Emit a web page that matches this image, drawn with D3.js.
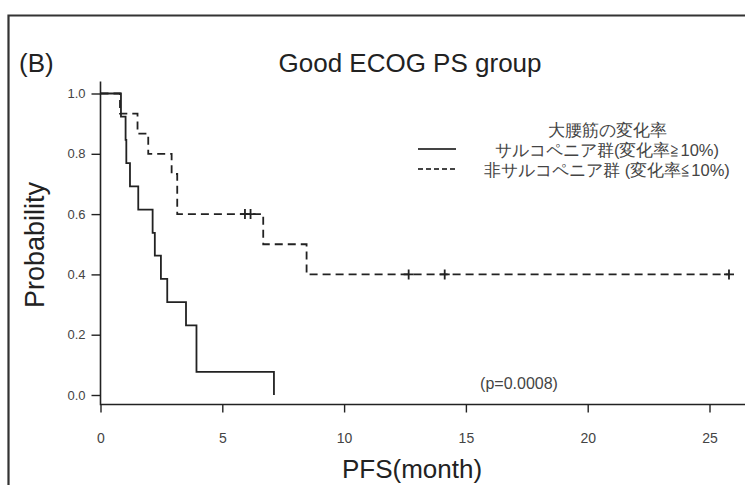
<!DOCTYPE html>
<html>
<head>
<meta charset="utf-8">
<script src="https://cdn.jsdelivr.net/npm/d3@7"></script>
<style>
  body { margin: 0; background: #fff; }
  svg text { font-family: "Liberation Sans", Arial, sans-serif; }
</style>
</head>
<body>
<div id="wrapper"></div>
<script>
// Kaplan-Meier steps
const sarcoTimes = [0, 0.84, 1.03, 1.06, 1.21, 1.55, 2.14, 2.23, 2.48, 2.74, 3.51, 3.94, 7.12];
const sarcoSurv  = [1, 0.923, 0.846, 0.769, 0.692, 0.615, 0.538, 0.462, 0.385, 0.308, 0.231, 0.077, 0];

const nonSarcoTimes = [0, 0.80, 1.52, 1.96, 2.92, 3.15, 6.68, 8.46, 25.8];
const nonSarcoSurv  = [1, 0.933, 0.867, 0.8, 0.733, 0.6, 0.5, 0.4, 0.4];
const nonSarcoCensorTimes = [5.93, 6.16, 12.65, 14.13, 25.8];
const nonSarcoCensorSurv  = [0.6, 0.6, 0.4, 0.4, 0.4];

const xTicks = [0, 5, 10, 15, 20, 25];
const yTicks = [0, 0.2, 0.4, 0.6, 0.8, 1.0];

const titleText = "Good ECOG PS group";
const panelLabel = "(B)";
const legendTitle = "大腰筋の変化率";
const legendLabels = ["サルコペニア群(変化率≧10%)", "非サルコペニア群 (変化率≦10%)"];
const pText = "(p=0.0008)";

let dimensions = {
  width: 745,
  height: 485,
};

const svg = d3.select("#wrapper").append("svg")
  .attr("width", dimensions.width)
  .attr("height", dimensions.height);

const xScale = d3.scaleLinear()
  .domain([0, 25])
  .range([100.5, 709.5]);

const yScale = d3.scaleLinear()
  .domain([0, 1])
  .range([395, 93.5]);

const ink = "#222";

const addText = (x, y, str, size, opts = {}) => {
  return svg.append("text")
    .attr("transform", `translate(${x},${y}) rotate(${opts.rotate || 0})`)
    .attr("text-anchor", opts.anchor || "middle")
    .attr("font-size", size)
    .attr("fill", opts.fill || ink)
    .text(str);
};

// outer frame (only top and left visible)
svg.append("path")
  .attr("d", "M8.5,485 L8.5,15.5 L745,15.5")
  .attr("fill", "none")
  .attr("stroke", "#333")
  .attr("stroke-width", 2.2);

// panel label + title
addText(19, 72, panelLabel, 26, { anchor: "start" });
addText(410, 72, titleText, 26);

// L-shaped box
const axisY = 404.5;
svg.append("path")
  .attr("d", `M${xScale(0)},${yScale(1.04)} L${xScale(0)},${axisY} L745,${axisY}`)
  .attr("fill", "none")
  .attr("stroke", ink)
  .attr("stroke-width", 1.6);

// y axis
const yAxis = svg.append("g")
  .attr("transform", `translate(${xScale(0)},0)`)
  .call(d3.axisLeft(yScale)
    .tickValues(yTicks)
    .tickFormat(d3.format(".1f"))
    .tickSize(9)
    .tickPadding(6));
yAxis.select(".domain").remove();
yAxis.selectAll("line").attr("stroke", ink).attr("stroke-width", 1.4);
yAxis.selectAll("text")
  .attr("font-size", 13)
  .attr("fill", "#444")
  .style("font-family", "Liberation Sans, Arial, sans-serif");

// x axis
const xAxis = svg.append("g")
  .attr("transform", `translate(0,${axisY})`)
  .call(d3.axisBottom(xScale)
    .tickValues(xTicks)
    .tickFormat(d3.format("d"))
    .tickSize(8)
    .tickPadding(21));
xAxis.select(".domain").remove();
xAxis.selectAll("line").attr("stroke", ink).attr("stroke-width", 1.4);
xAxis.selectAll("text")
  .attr("font-size", 14)
  .attr("fill", "#444")
  .style("font-family", "Liberation Sans, Arial, sans-serif");

// axis titles
addText(412, 478, "PFS(month)", 26);
addText(44, 245, "Probability", 27, { rotate: -90 });

// curves
const stepLine = d3.line()
  .x(d => xScale(d[0]))
  .y(d => yScale(d[1]))
  .curve(d3.curveStepAfter);

const sarcoData = d3.zip(sarcoTimes, sarcoSurv);
const nonSarcoData = d3.zip(nonSarcoTimes, nonSarcoSurv);

svg.append("path")
  .attr("d", stepLine(sarcoData))
  .attr("fill", "none")
  .attr("stroke", ink)
  .attr("stroke-width", 1.8);

svg.append("path")
  .attr("d", stepLine(nonSarcoData))
  .attr("fill", "none")
  .attr("stroke", ink)
  .attr("stroke-width", 1.8)
  .attr("stroke-dasharray", "8,5");

// censor marks
const censorData = d3.zip(nonSarcoCensorTimes, nonSarcoCensorSurv);
svg.append("g")
  .selectAll("path")
  .data(censorData)
  .join("path")
  .attr("d", d => {
    const cx = xScale(d[0]), cy = yScale(d[1]);
    return `M${cx},${cy - 5}V${cy + 5}M${cx - 5},${cy}H${cx + 5}`;
  })
  .attr("stroke", ink)
  .attr("stroke-width", 1.8);

// legend
addText(607, 136, legendTitle, 16.5, { fill: "#444" });

legendLabels.forEach((label, i) => {
  const ly = 149 + i * 20;
  svg.append("line")
    .attr("x1", 418).attr("x2", 456)
    .attr("y1", ly).attr("y2", ly)
    .attr("stroke", "#444")
    .attr("stroke-width", 2.2)
    .attr("stroke-dasharray", i === 1 ? "5,3" : null);
  addText(607, ly + 7, label, 16.5, { fill: "#444" });
});

// p value
addText(519, 389, pText, 16, { fill: "#444" });
</script>
</body>
</html>
